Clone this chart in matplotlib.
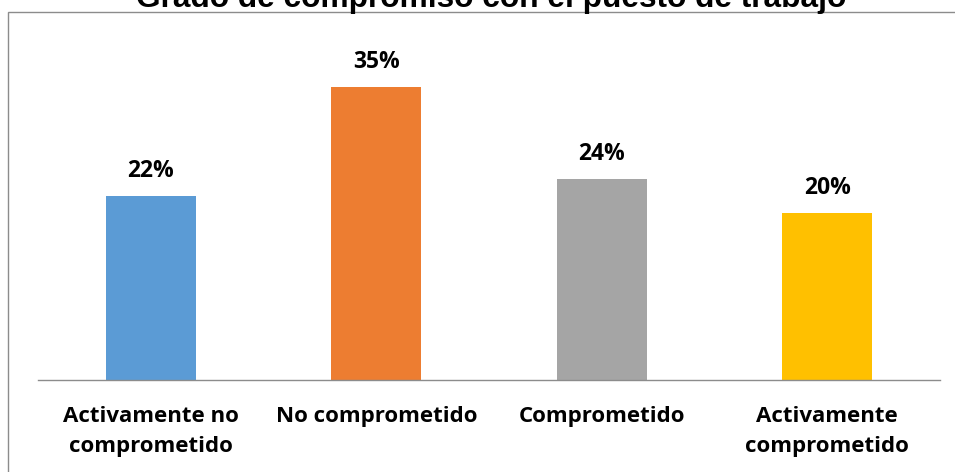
import matplotlib
matplotlib.use("Agg")
import matplotlib.pyplot as plt
from matplotlib.patches import Rectangle

categorias = ["Activamente no\ncomprometido", "No comprometido", "Comprometido", "Activamente\ncomprometido"]
porcentajes = [22, 35, 24, 20]
etiquetas = ["22%", "35%", "24%", "20%"]
colores = ["#5B9BD5", "#ED7D31", "#A5A5A5", "#FFC000"]

fig = plt.figure(figsize=(9.55, 4.72), dpi=100)
W, H = 955, 472

# marco gris del gráfico
fig.patches.append(Rectangle((8 / W, -0.1), 1.0, 1.1 - 12 / H, transform=fig.transFigure,
                             fill=False, edgecolor="#8c8c8c", linewidth=1.0))

ax = fig.add_axes([38 / W, (H - 380) / H, (940 - 38) / W, (380 - 40) / H])
x = range(len(categorias))
ax.bar(x, porcentajes, width=0.40, color=colores)
ax.set_xlim(-0.5, 3.5)
ax.set_ylim(0, 40.6)

for xi, v, t in zip(x, porcentajes, etiquetas):
    ax.annotate(t, (xi, v), xytext=(0, 19), textcoords="offset pixels",
                ha="center", va="baseline", fontsize=16.5, fontweight="bold",
                family="Open Sans", color="black")

for s in ["top", "right", "left"]:
    ax.spines[s].set_visible(False)
ax.spines["bottom"].set_color("#8c8c8c")
ax.spines["bottom"].set_linewidth(1.0)
ax.set_yticks([])
ax.set_xticks(list(x))
ax.set_xticklabels(categorias, fontsize=16, fontweight="bold", family="Open Sans",
                   linespacing=1.55)
ax.tick_params(axis="x", length=0, pad=19)

fig.text(491 / W, 1 - 7 / H, "Grado de compromiso con el puesto de trabajo",
         ha="center", va="baseline", fontsize=22.8, fontweight="bold",
         family="Liberation Sans")

fig.savefig("out.png", dpi=100)
